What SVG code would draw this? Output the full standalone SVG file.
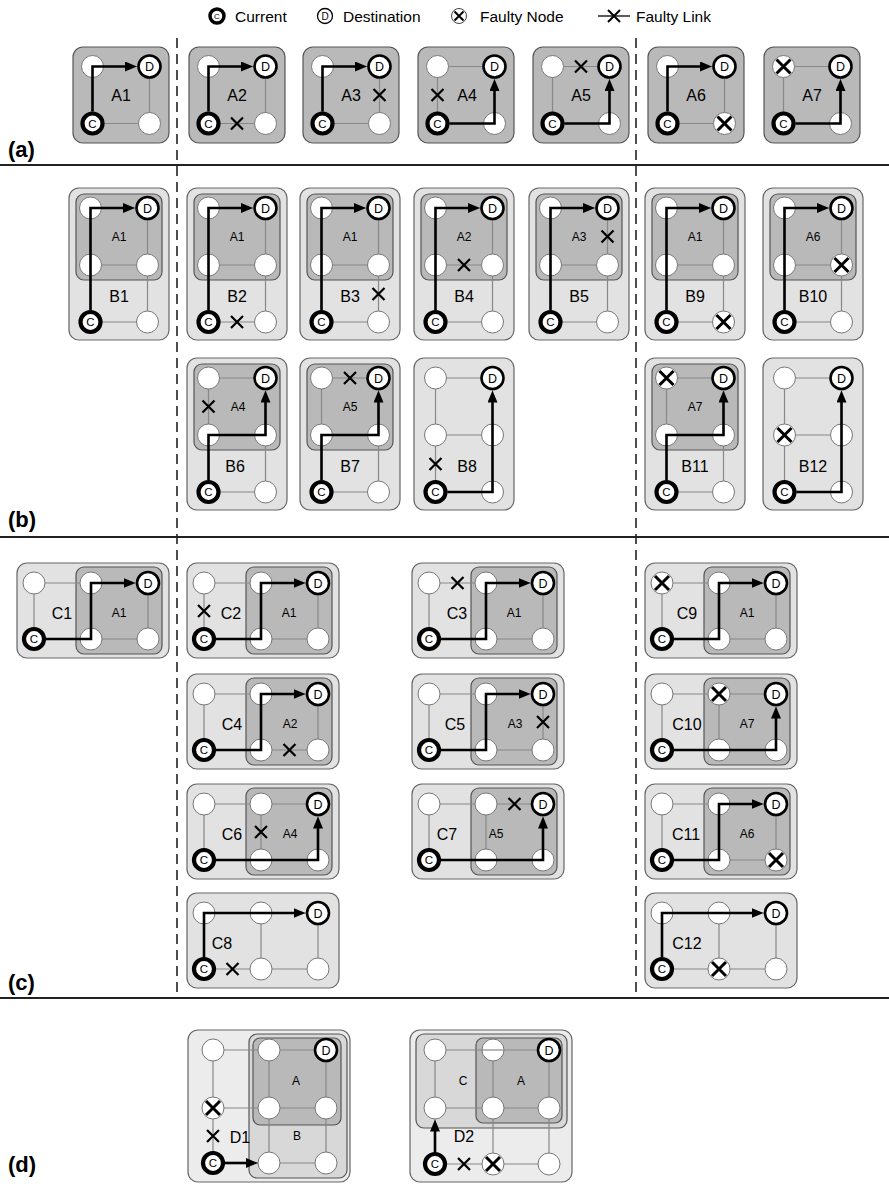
<svg xmlns="http://www.w3.org/2000/svg" width="889" height="1186" viewBox="0 0 889 1186">
<style>
text{font-family:"Liberation Sans",Arial,sans-serif;fill:#000}
.ba{fill:#b9b9b9;stroke:#555;stroke-width:1.2}
.bl{fill:#e2e2e2;stroke:#666;stroke-width:1.2}
.bm{fill:#d8d8d8;stroke:#555;stroke-width:1.2}
.bo{fill:#ececec;stroke:#666;stroke-width:1.2}
.g{fill:none;stroke:#888;stroke-width:1.2}
.p{fill:none;stroke:#000;stroke-width:2.6}
.nc{font-size:11.5px;text-anchor:middle}
.nd{font-size:12.5px;text-anchor:middle}
.lb{font-size:16px;text-anchor:middle}
.il{font-size:12px;text-anchor:middle}
.pl{font-size:22px;font-weight:bold}
.lg{font-size:15.5px}
.sep{stroke:#222;stroke-width:2}
.dash{stroke:#222;stroke-width:1.6;stroke-dasharray:10 6}
</style>
<defs>
<marker id="ah" viewBox="0 0 12 10" refX="8" refY="5" markerWidth="12" markerHeight="10" markerUnits="userSpaceOnUse" orient="auto"><path d="M0,0L12,5L0,10z" fill="#000"/></marker>
<circle id="n" r="11" fill="#fff" stroke="#777" stroke-width="1"/>
<circle id="cn" r="10" fill="#fff" stroke="#000" stroke-width="4.2"/>
<circle id="dn" r="11" fill="#fff" stroke="#000" stroke-width="2.6"/>
<g id="fn"><circle r="11" fill="#fff" stroke="#777" stroke-width="1"/><path d="M-7,-7L7,7M7,-7L-7,7" stroke="#000" stroke-width="3"/></g>
<path id="fx" d="M-6,-6L6,6M6,-6L-6,6" stroke="#000" stroke-width="2.2"/>
</defs>

<!-- legend -->
<g id="legend">
<circle cx="217" cy="16" r="7" fill="#fff" stroke="#000" stroke-width="3.5"/><text x="217" y="19" font-size="8" text-anchor="middle">C</text>
<text class="lg" x="235" y="21.5">Current</text>
<circle cx="325" cy="16" r="7.5" fill="#fff" stroke="#000" stroke-width="1.3"/><text x="325" y="19.5" font-size="10" text-anchor="middle">D</text>
<text class="lg" x="343" y="21.5">Destination</text>
<circle cx="459" cy="16" r="7.5" fill="#fff" stroke="#444" stroke-width="1"/><path d="M454.5,11.5L463.5,20.5M463.5,11.5L454.5,20.5" stroke="#000" stroke-width="2"/>
<text class="lg" x="480" y="21.5">Faulty Node</text>
<path d="M598,16H630" stroke="#000" stroke-width="1.3"/><path d="M608,10L620,22M620,10L608,22" stroke="#000" stroke-width="2"/>
<text class="lg" x="636" y="21.5">Faulty Link</text>
</g>

<!-- section frame -->
<g id="frame">
<line class="sep" x1="0" y1="165" x2="889" y2="165"/>
<line class="sep" x1="0" y1="537" x2="889" y2="537"/>
<line class="sep" x1="0" y1="998" x2="889" y2="998"/>
<line class="dash" x1="177" y1="38" x2="177" y2="998"/>
<line class="dash" x1="636" y1="38" x2="636" y2="998"/>
<text class="pl" x="8" y="157">(a)</text>
<text class="pl" x="8" y="527">(b)</text>
<text class="pl" x="8" y="990">(c)</text>
<text class="pl" x="8" y="1172">(d)</text>
</g>

<!-- row (a): 2x2 meshes -->
<g id="A1" transform="translate(73,47)">
<rect class="ba" width="96" height="96" rx="10"/><path class="g" d="M19.5,19.5H76.5V76.5H19.5Z"/>
<use href="#n" x="19.5" y="19.5"/><use href="#n" x="76.5" y="76.5"/>
<use href="#cn" x="19.5" y="76.5"/><use href="#dn" x="76.5" y="19.5"/>
<text class="nc" x="19.5" y="80.5">C</text><text class="nd" x="76.5" y="24">D</text>
<text class="lb" x="48" y="54">A1</text>
</g>
<g id="A2" transform="translate(189,47)">
<rect class="ba" width="96" height="96" rx="10"/><path class="g" d="M19.5,19.5H76.5V76.5H19.5Z"/>
<use href="#n" x="19.5" y="19.5"/><use href="#n" x="76.5" y="76.5"/>
<use href="#cn" x="19.5" y="76.5"/><use href="#dn" x="76.5" y="19.5"/>
<text class="nc" x="19.5" y="80.5">C</text><text class="nd" x="76.5" y="24">D</text>
<use href="#fx" x="48" y="76.5"/>
<text class="lb" x="48" y="54">A2</text>
</g>
<g id="A3" transform="translate(303,47)">
<rect class="ba" width="96" height="96" rx="10"/><path class="g" d="M19.5,19.5H76.5V76.5H19.5Z"/>
<use href="#n" x="19.5" y="19.5"/><use href="#n" x="76.5" y="76.5"/>
<use href="#cn" x="19.5" y="76.5"/><use href="#dn" x="76.5" y="19.5"/>
<text class="nc" x="19.5" y="80.5">C</text><text class="nd" x="76.5" y="24">D</text>
<use href="#fx" x="76.5" y="48"/>
<text class="lb" x="48" y="54">A3</text>
</g>
<g id="A4" transform="translate(418,47)">
<rect class="ba" width="96" height="96" rx="10"/><path class="g" d="M19.5,19.5H76.5V76.5H19.5Z"/>
<use href="#n" x="19.5" y="19.5"/><use href="#n" x="76.5" y="76.5"/>
<use href="#cn" x="19.5" y="76.5"/><use href="#dn" x="76.5" y="19.5"/>
<text class="nc" x="19.5" y="80.5">C</text><text class="nd" x="76.5" y="24">D</text>
<use href="#fx" x="19.5" y="48"/>
<text class="lb" x="49" y="54">A4</text>
</g>
<g id="A5" transform="translate(533,47)">
<rect class="ba" width="96" height="96" rx="10"/><path class="g" d="M19.5,19.5H76.5V76.5H19.5Z"/>
<use href="#n" x="19.5" y="19.5"/><use href="#n" x="76.5" y="76.5"/>
<use href="#cn" x="19.5" y="76.5"/><use href="#dn" x="76.5" y="19.5"/>
<text class="nc" x="19.5" y="80.5">C</text><text class="nd" x="76.5" y="24">D</text>
<use href="#fx" x="48" y="19.5"/>
<text class="lb" x="48" y="54">A5</text>
</g>
<g id="A6" transform="translate(648,47)">
<rect class="ba" width="96" height="96" rx="10"/><path class="g" d="M19.5,19.5H76.5V76.5H19.5Z"/>
<use href="#n" x="19.5" y="19.5"/><use href="#fn" x="76.5" y="76.5"/>
<use href="#cn" x="19.5" y="76.5"/><use href="#dn" x="76.5" y="19.5"/>
<text class="nc" x="19.5" y="80.5">C</text><text class="nd" x="76.5" y="24">D</text>
<text class="lb" x="48" y="54">A6</text>
</g>
<g id="A7" transform="translate(764,47)">
<rect class="ba" width="96" height="96" rx="10"/><path class="g" d="M19.5,19.5H76.5V76.5H19.5Z"/>
<use href="#fn" x="19.5" y="19.5"/><use href="#n" x="76.5" y="76.5"/>
<use href="#cn" x="19.5" y="76.5"/><use href="#dn" x="76.5" y="19.5"/>
<text class="nc" x="19.5" y="80.5">C</text><text class="nd" x="76.5" y="24">D</text>
<text class="lb" x="48" y="54">A7</text>
</g>

<!-- row (b): 2x3 meshes -->
<g id="B1" transform="translate(69,188)">
<rect class="bl" width="100" height="152" rx="10"/><rect class="ba" x="7" y="6" width="86" height="86" rx="8"/>
<path class="g" d="M21.5,20H78.5M21.5,77H78.5M21.5,134H78.5M21.5,20V134M78.5,20V134"/>
<use href="#n" x="21.5" y="20"/><use href="#n" x="21.5" y="77"/><use href="#n" x="78.5" y="77"/><use href="#n" x="78.5" y="134"/>
<use href="#cn" x="21.5" y="134"/><use href="#dn" x="78.5" y="20"/>
<text class="nc" x="21.5" y="138">C</text><text class="nd" x="78.5" y="24.5">D</text>
<text class="il" x="50" y="53">A1</text><text class="lb" x="50" y="114">B1</text>
</g>
<g id="B2" transform="translate(187,188)">
<rect class="bl" width="100" height="152" rx="10"/><rect class="ba" x="7" y="6" width="86" height="86" rx="8"/>
<path class="g" d="M21.5,20H78.5M21.5,77H78.5M21.5,134H78.5M21.5,20V134M78.5,20V134"/>
<use href="#n" x="21.5" y="20"/><use href="#n" x="21.5" y="77"/><use href="#n" x="78.5" y="77"/><use href="#n" x="78.5" y="134"/>
<use href="#cn" x="21.5" y="134"/><use href="#dn" x="78.5" y="20"/>
<text class="nc" x="21.5" y="138">C</text><text class="nd" x="78.5" y="24.5">D</text>
<use href="#fx" x="50" y="134"/>
<text class="il" x="50" y="53">A1</text><text class="lb" x="50" y="114">B2</text>
</g>
<g id="B3" transform="translate(300,188)">
<rect class="bl" width="100" height="152" rx="10"/><rect class="ba" x="7" y="6" width="86" height="86" rx="8"/>
<path class="g" d="M21.5,20H78.5M21.5,77H78.5M21.5,134H78.5M21.5,20V134M78.5,20V134"/>
<use href="#n" x="21.5" y="20"/><use href="#n" x="21.5" y="77"/><use href="#n" x="78.5" y="77"/><use href="#n" x="78.5" y="134"/>
<use href="#cn" x="21.5" y="134"/><use href="#dn" x="78.5" y="20"/>
<text class="nc" x="21.5" y="138">C</text><text class="nd" x="78.5" y="24.5">D</text>
<use href="#fx" x="78.5" y="106"/>
<text class="il" x="50" y="53">A1</text><text class="lb" x="50" y="114">B3</text>
</g>
<g id="B4" transform="translate(414,188)">
<rect class="bl" width="100" height="152" rx="10"/><rect class="ba" x="7" y="6" width="86" height="86" rx="8"/>
<path class="g" d="M21.5,20H78.5M21.5,77H78.5M21.5,134H78.5M21.5,20V134M78.5,20V134"/>
<use href="#n" x="21.5" y="20"/><use href="#n" x="21.5" y="77"/><use href="#n" x="78.5" y="77"/><use href="#n" x="78.5" y="134"/>
<use href="#cn" x="21.5" y="134"/><use href="#dn" x="78.5" y="20"/>
<text class="nc" x="21.5" y="138">C</text><text class="nd" x="78.5" y="24.5">D</text>
<use href="#fx" x="50" y="77"/>
<text class="il" x="50" y="53">A2</text><text class="lb" x="50" y="114">B4</text>
</g>
<g id="B5" transform="translate(529,188)">
<rect class="bl" width="100" height="152" rx="10"/><rect class="ba" x="7" y="6" width="86" height="86" rx="8"/>
<path class="g" d="M21.5,20H78.5M21.5,77H78.5M21.5,134H78.5M21.5,20V134M78.5,20V134"/>
<use href="#n" x="21.5" y="20"/><use href="#n" x="21.5" y="77"/><use href="#n" x="78.5" y="77"/><use href="#n" x="78.5" y="134"/>
<use href="#cn" x="21.5" y="134"/><use href="#dn" x="78.5" y="20"/>
<text class="nc" x="21.5" y="138">C</text><text class="nd" x="78.5" y="24.5">D</text>
<use href="#fx" x="78.5" y="48.5"/>
<text class="il" x="50" y="53">A3</text><text class="lb" x="50" y="114">B5</text>
</g>
<g id="B9" transform="translate(645,188)">
<rect class="bl" width="100" height="152" rx="10"/><rect class="ba" x="7" y="6" width="86" height="86" rx="8"/>
<path class="g" d="M21.5,20H78.5M21.5,77H78.5M21.5,134H78.5M21.5,20V134M78.5,20V134"/>
<use href="#n" x="21.5" y="20"/><use href="#n" x="21.5" y="77"/><use href="#n" x="78.5" y="77"/><use href="#fn" x="78.5" y="134"/>
<use href="#cn" x="21.5" y="134"/><use href="#dn" x="78.5" y="20"/>
<text class="nc" x="21.5" y="138">C</text><text class="nd" x="78.5" y="24.5">D</text>
<text class="il" x="50" y="53">A1</text><text class="lb" x="50" y="114">B9</text>
</g>
<g id="B10" transform="translate(763,188)">
<rect class="bl" width="100" height="152" rx="10"/><rect class="ba" x="7" y="6" width="86" height="86" rx="8"/>
<path class="g" d="M21.5,20H78.5M21.5,77H78.5M21.5,134H78.5M21.5,20V134M78.5,20V134"/>
<use href="#n" x="21.5" y="20"/><use href="#n" x="21.5" y="77"/><use href="#fn" x="78.5" y="77"/><use href="#n" x="78.5" y="134"/>
<use href="#cn" x="21.5" y="134"/><use href="#dn" x="78.5" y="20"/>
<text class="nc" x="21.5" y="138">C</text><text class="nd" x="78.5" y="24.5">D</text>
<text class="il" x="50" y="53">A6</text><text class="lb" x="50" y="114">B10</text>
</g>
<g id="B6" transform="translate(187,358)">
<rect class="bl" width="100" height="152" rx="10"/><rect class="ba" x="7" y="6" width="86" height="86" rx="8"/>
<path class="g" d="M21.5,20H78.5M21.5,77H78.5M21.5,134H78.5M21.5,20V134M78.5,20V134"/>
<use href="#n" x="21.5" y="20"/><use href="#n" x="21.5" y="77"/><use href="#n" x="78.5" y="77"/><use href="#n" x="78.5" y="134"/>
<use href="#cn" x="21.5" y="134"/><use href="#dn" x="78.5" y="20"/>
<text class="nc" x="21.5" y="138">C</text><text class="nd" x="78.5" y="24.5">D</text>
<use href="#fx" x="21.5" y="48.5"/>
<text class="il" x="51" y="53">A4</text><text class="lb" x="48" y="114">B6</text>
</g>
<g id="B7" transform="translate(300,358)">
<rect class="bl" width="100" height="152" rx="10"/><rect class="ba" x="7" y="6" width="86" height="86" rx="8"/>
<path class="g" d="M21.5,20H78.5M21.5,77H78.5M21.5,134H78.5M21.5,20V134M78.5,20V134"/>
<use href="#n" x="21.5" y="20"/><use href="#n" x="21.5" y="77"/><use href="#n" x="78.5" y="77"/><use href="#n" x="78.5" y="134"/>
<use href="#cn" x="21.5" y="134"/><use href="#dn" x="78.5" y="20"/>
<text class="nc" x="21.5" y="138">C</text><text class="nd" x="78.5" y="24.5">D</text>
<use href="#fx" x="50" y="20"/>
<text class="il" x="50" y="53">A5</text><text class="lb" x="50" y="114">B7</text>
</g>
<g id="B8" transform="translate(414,358)">
<rect class="bl" width="100" height="152" rx="10"/>
<path class="g" d="M21.5,20H78.5M21.5,77H78.5M21.5,134H78.5M21.5,20V134M78.5,20V134"/>
<use href="#n" x="21.5" y="20"/><use href="#n" x="21.5" y="77"/><use href="#n" x="78.5" y="77"/><use href="#n" x="78.5" y="134"/>
<use href="#cn" x="21.5" y="134"/><use href="#dn" x="78.5" y="20"/>
<text class="nc" x="21.5" y="138">C</text><text class="nd" x="78.5" y="24.5">D</text>
<use href="#fx" x="21.5" y="106"/>
<text class="lb" x="53" y="114">B8</text>
</g>
<g id="B11" transform="translate(645,358)">
<rect class="bl" width="100" height="152" rx="10"/><rect class="ba" x="7" y="6" width="86" height="86" rx="8"/>
<path class="g" d="M21.5,20H78.5M21.5,77H78.5M21.5,134H78.5M21.5,20V134M78.5,20V134"/>
<use href="#fn" x="21.5" y="20"/><use href="#n" x="21.5" y="77"/><use href="#n" x="78.5" y="77"/><use href="#n" x="78.5" y="134"/>
<use href="#cn" x="21.5" y="134"/><use href="#dn" x="78.5" y="20"/>
<text class="nc" x="21.5" y="138">C</text><text class="nd" x="78.5" y="24.5">D</text>
<text class="il" x="50" y="53">A7</text><text class="lb" x="50" y="114">B11</text>
</g>
<g id="B12" transform="translate(763,358)">
<rect class="bl" width="100" height="152" rx="10"/>
<path class="g" d="M21.5,20H78.5M21.5,77H78.5M21.5,134H78.5M21.5,20V134M78.5,20V134"/>
<use href="#n" x="21.5" y="20"/><use href="#fn" x="21.5" y="77"/><use href="#n" x="78.5" y="77"/><use href="#n" x="78.5" y="134"/>
<use href="#cn" x="21.5" y="134"/><use href="#dn" x="78.5" y="20"/>
<text class="nc" x="21.5" y="138">C</text><text class="nd" x="78.5" y="24.5">D</text>
<text class="lb" x="50" y="114">B12</text>
</g>

<!-- row (c): 3x2 meshes -->
<g id="C1" transform="translate(17,563)">
<rect class="bl" width="152" height="95" rx="10"/><rect class="ba" x="59" y="4" width="86" height="87" rx="8"/>
<path class="g" d="M17,20H131M17,76H131M17,20V76M74,20V76M131,20V76"/>
<use href="#n" x="17" y="20"/><use href="#n" x="74" y="20"/><use href="#n" x="74" y="76"/><use href="#n" x="131" y="76"/>
<use href="#cn" x="17" y="76"/><use href="#dn" x="131" y="20"/>
<text class="nc" x="17" y="80">C</text><text class="nd" x="131" y="24.5">D</text>
<text class="lb" x="45" y="56">C1</text><text class="il" x="102" y="54">A1</text>
</g>
<g id="C2" transform="translate(187,563)">
<rect class="bl" width="152" height="95" rx="10"/><rect class="ba" x="59" y="4" width="86" height="87" rx="8"/>
<path class="g" d="M17,20H131M17,76H131M17,20V76M74,20V76M131,20V76"/>
<use href="#n" x="17" y="20"/><use href="#n" x="74" y="20"/><use href="#n" x="74" y="76"/><use href="#n" x="131" y="76"/>
<use href="#cn" x="17" y="76"/><use href="#dn" x="131" y="20"/>
<text class="nc" x="17" y="80">C</text><text class="nd" x="131" y="24.5">D</text>
<use href="#fx" x="17" y="48"/>
<text class="lb" x="44" y="56">C2</text><text class="il" x="102" y="54">A1</text>
</g>
<g id="C3" transform="translate(412,563)">
<rect class="bl" width="152" height="95" rx="10"/><rect class="ba" x="59" y="4" width="86" height="87" rx="8"/>
<path class="g" d="M17,20H131M17,76H131M17,20V76M74,20V76M131,20V76"/>
<use href="#n" x="17" y="20"/><use href="#n" x="74" y="20"/><use href="#n" x="74" y="76"/><use href="#n" x="131" y="76"/>
<use href="#cn" x="17" y="76"/><use href="#dn" x="131" y="20"/>
<text class="nc" x="17" y="80">C</text><text class="nd" x="131" y="24.5">D</text>
<use href="#fx" x="45.5" y="20"/>
<text class="lb" x="45" y="56">C3</text><text class="il" x="102" y="54">A1</text>
</g>
<g id="C9" transform="translate(645,563)">
<rect class="bl" width="152" height="95" rx="10"/><rect class="ba" x="59" y="4" width="86" height="87" rx="8"/>
<path class="g" d="M17,20H131M17,76H131M17,20V76M74,20V76M131,20V76"/>
<use href="#fn" x="17" y="20"/><use href="#n" x="74" y="20"/><use href="#n" x="74" y="76"/><use href="#n" x="131" y="76"/>
<use href="#cn" x="17" y="76"/><use href="#dn" x="131" y="20"/>
<text class="nc" x="17" y="80">C</text><text class="nd" x="131" y="24.5">D</text>
<text class="lb" x="42" y="56">C9</text><text class="il" x="102" y="54">A1</text>
</g>
<g id="C4" transform="translate(187,674)">
<rect class="bl" width="152" height="95" rx="10"/><rect class="ba" x="59" y="4" width="86" height="87" rx="8"/>
<path class="g" d="M17,20H131M17,76H131M17,20V76M74,20V76M131,20V76"/>
<use href="#n" x="17" y="20"/><use href="#n" x="74" y="20"/><use href="#n" x="74" y="76"/><use href="#n" x="131" y="76"/>
<use href="#cn" x="17" y="76"/><use href="#dn" x="131" y="20"/>
<text class="nc" x="17" y="80">C</text><text class="nd" x="131" y="24.5">D</text>
<use href="#fx" x="102.5" y="76"/>
<text class="lb" x="45" y="56">C4</text><text class="il" x="103" y="54">A2</text>
</g>
<g id="C5" transform="translate(412,674)">
<rect class="bl" width="152" height="95" rx="10"/><rect class="ba" x="59" y="4" width="86" height="87" rx="8"/>
<path class="g" d="M17,20H131M17,76H131M17,20V76M74,20V76M131,20V76"/>
<use href="#n" x="17" y="20"/><use href="#n" x="74" y="20"/><use href="#n" x="74" y="76"/><use href="#n" x="131" y="76"/>
<use href="#cn" x="17" y="76"/><use href="#dn" x="131" y="20"/>
<text class="nc" x="17" y="80">C</text><text class="nd" x="131" y="24.5">D</text>
<use href="#fx" x="131" y="48"/>
<text class="lb" x="43" y="56">C5</text><text class="il" x="103" y="54">A3</text>
</g>
<g id="C10" transform="translate(645,674)">
<rect class="bl" width="152" height="95" rx="10"/><rect class="ba" x="59" y="4" width="86" height="87" rx="8"/>
<path class="g" d="M17,20H131M17,76H131M17,20V76M74,20V76M131,20V76"/>
<use href="#n" x="17" y="20"/><use href="#fn" x="74" y="20"/><use href="#n" x="74" y="76"/><use href="#n" x="131" y="76"/>
<use href="#cn" x="17" y="76"/><use href="#dn" x="131" y="20"/>
<text class="nc" x="17" y="80">C</text><text class="nd" x="131" y="24.5">D</text>
<text class="lb" x="42" y="56">C10</text><text class="il" x="102" y="54">A7</text>
</g>
<g id="C6" transform="translate(187,784)">
<rect class="bl" width="152" height="95" rx="10"/><rect class="ba" x="59" y="4" width="86" height="87" rx="8"/>
<path class="g" d="M17,20H131M17,76H131M17,20V76M74,20V76M131,20V76"/>
<use href="#n" x="17" y="20"/><use href="#n" x="74" y="20"/><use href="#n" x="74" y="76"/><use href="#n" x="131" y="76"/>
<use href="#cn" x="17" y="76"/><use href="#dn" x="131" y="20"/>
<text class="nc" x="17" y="80">C</text><text class="nd" x="131" y="24.5">D</text>
<use href="#fx" x="74" y="48"/>
<text class="lb" x="45" y="56">C6</text><text class="il" x="103" y="54">A4</text>
</g>
<g id="C7" transform="translate(412,784)">
<rect class="bl" width="152" height="95" rx="10"/><rect class="ba" x="59" y="4" width="86" height="87" rx="8"/>
<path class="g" d="M17,20H131M17,76H131M17,20V76M74,20V76M131,20V76"/>
<use href="#n" x="17" y="20"/><use href="#n" x="74" y="20"/><use href="#n" x="74" y="76"/><use href="#n" x="131" y="76"/>
<use href="#cn" x="17" y="76"/><use href="#dn" x="131" y="20"/>
<text class="nc" x="17" y="80">C</text><text class="nd" x="131" y="24.5">D</text>
<use href="#fx" x="102.5" y="20"/>
<text class="lb" x="35" y="56">C7</text><text class="il" x="84" y="54">A5</text>
</g>
<g id="C11" transform="translate(645,784)">
<rect class="bl" width="152" height="95" rx="10"/><rect class="ba" x="59" y="4" width="86" height="87" rx="8"/>
<path class="g" d="M17,20H131M17,76H131M17,20V76M74,20V76M131,20V76"/>
<use href="#n" x="17" y="20"/><use href="#n" x="74" y="20"/><use href="#n" x="74" y="76"/><use href="#fn" x="131" y="76"/>
<use href="#cn" x="17" y="76"/><use href="#dn" x="131" y="20"/>
<text class="nc" x="17" y="80">C</text><text class="nd" x="131" y="24.5">D</text>
<text class="lb" x="41" y="56">C11</text><text class="il" x="102" y="54">A6</text>
</g>
<g id="C8" transform="translate(187,893)">
<rect class="bl" width="152" height="95" rx="10"/>
<path class="g" d="M17,20H131M17,76H131M17,20V76M74,20V76M131,20V76"/>
<use href="#n" x="17" y="20"/><use href="#n" x="74" y="20"/><use href="#n" x="74" y="76"/><use href="#n" x="131" y="76"/>
<use href="#cn" x="17" y="76"/><use href="#dn" x="131" y="20"/>
<text class="nc" x="17" y="80">C</text><text class="nd" x="131" y="24.5">D</text>
<use href="#fx" x="45.5" y="76"/>
<text class="lb" x="35" y="56">C8</text>
</g>
<g id="C12" transform="translate(645,893)">
<rect class="bl" width="152" height="95" rx="10"/>
<path class="g" d="M17,20H131M17,76H131M17,20V76M74,20V76M131,20V76"/>
<use href="#n" x="17" y="20"/><use href="#n" x="74" y="20"/><use href="#fn" x="74" y="76"/><use href="#n" x="131" y="76"/>
<use href="#cn" x="17" y="76"/><use href="#dn" x="131" y="20"/>
<text class="nc" x="17" y="80">C</text><text class="nd" x="131" y="24.5">D</text>
<text class="lb" x="42" y="56">C12</text>
</g>

<!-- row (d): 3x3 meshes -->
<g id="D1" transform="translate(188,1030)">
<rect class="bo" width="162" height="152" rx="10"/>
<rect class="bm" x="61" y="4" width="98" height="144" rx="8"/>
<rect class="ba" x="65" y="8" width="88" height="87" rx="7"/>
<path class="g" d="M25,20H138M25,78H138M25,133H138M25,20V133M81,20V133M138,20V133"/>
<use href="#n" x="25" y="20"/><use href="#n" x="81" y="20"/>
<use href="#fn" x="25" y="78"/><use href="#n" x="81" y="78"/><use href="#n" x="138" y="78"/>
<use href="#n" x="81" y="133"/><use href="#n" x="138" y="133"/>
<use href="#cn" x="25" y="133"/><use href="#dn" x="138" y="20"/>
<text class="nc" x="25" y="137">C</text><text class="nd" x="138" y="24.5">D</text>
<use href="#fx" x="25" y="106"/>
<text class="il" x="108" y="55">A</text><text class="il" x="109" y="110">B</text>
<text class="lb" x="52" y="113">D1</text>
</g>
<g id="D2" transform="translate(410,1030)">
<rect class="bo" width="162" height="152" rx="10"/>
<rect class="bm" x="6" y="4" width="151" height="94" rx="8"/>
<rect class="ba" x="66" y="8" width="86" height="85" rx="7"/>
<path class="g" d="M25,20H139M25,78H139M25,134H139M25,20V134M83,20V134M139,20V134"/>
<use href="#n" x="25" y="20"/><use href="#n" x="83" y="20"/>
<use href="#n" x="25" y="78"/><use href="#n" x="83" y="78"/><use href="#n" x="139" y="78"/>
<use href="#fn" x="83" y="134"/><use href="#n" x="139" y="134"/>
<path class="g" d="M72,20H94"/>
<use href="#cn" x="25" y="134"/><use href="#dn" x="139" y="20"/>
<text class="nc" x="25" y="138">C</text><text class="nd" x="139" y="24.5">D</text>
<use href="#fx" x="54" y="134"/>
<text class="il" x="53" y="55">C</text><text class="il" x="111" y="55">A</text>
<text class="lb" x="54" y="112">D2</text>
</g>

<!-- routing paths C to D -->
<g id="routes" fill="none">
<path class="p" marker-end="url(#ah)" transform="translate(73,47)" d="M19.5,64.5V19.5H60"/>
<path class="p" marker-end="url(#ah)" transform="translate(189,47)" d="M19.5,64.5V19.5H60"/>
<path class="p" marker-end="url(#ah)" transform="translate(303,47)" d="M19.5,64.5V19.5H60"/>
<path class="p" marker-end="url(#ah)" transform="translate(418,47)" d="M31.5,76.5H76.5V36"/>
<path class="p" marker-end="url(#ah)" transform="translate(533,47)" d="M31.5,76.5H76.5V36"/>
<path class="p" marker-end="url(#ah)" transform="translate(648,47)" d="M19.5,64.5V19.5H60"/>
<path class="p" marker-end="url(#ah)" transform="translate(764,47)" d="M31.5,76.5H76.5V36"/>

<path class="p" marker-end="url(#ah)" transform="translate(69,188)" d="M21.5,122V20H62"/>
<path class="p" marker-end="url(#ah)" transform="translate(187,188)" d="M21.5,122V20H62"/>
<path class="p" marker-end="url(#ah)" transform="translate(300,188)" d="M21.5,122V20H62"/>
<path class="p" marker-end="url(#ah)" transform="translate(414,188)" d="M21.5,122V20H62"/>
<path class="p" marker-end="url(#ah)" transform="translate(529,188)" d="M21.5,122V20H62"/>
<path class="p" marker-end="url(#ah)" transform="translate(645,188)" d="M21.5,122V20H62"/>
<path class="p" marker-end="url(#ah)" transform="translate(763,188)" d="M21.5,122V20H62"/>
<path class="p" marker-end="url(#ah)" transform="translate(187,358)" d="M21.5,122V77H78.5V36.5"/>
<path class="p" marker-end="url(#ah)" transform="translate(300,358)" d="M21.5,122V77H78.5V36.5"/>
<path class="p" marker-end="url(#ah)" transform="translate(414,358)" d="M33.5,134H78.5V36.5"/>
<path class="p" marker-end="url(#ah)" transform="translate(645,358)" d="M21.5,122V77H78.5V36.5"/>
<path class="p" marker-end="url(#ah)" transform="translate(763,358)" d="M33.5,134H78.5V36.5"/>

<path class="p" marker-end="url(#ah)" transform="translate(17,563)" d="M29,76H74V20H114.5"/>
<path class="p" marker-end="url(#ah)" transform="translate(187,563)" d="M29,76H74V20H114.5"/>
<path class="p" marker-end="url(#ah)" transform="translate(412,563)" d="M29,76H74V20H114.5"/>
<path class="p" marker-end="url(#ah)" transform="translate(645,563)" d="M29,76H74V20H114.5"/>
<path class="p" marker-end="url(#ah)" transform="translate(187,674)" d="M29,76H74V20H114.5"/>
<path class="p" marker-end="url(#ah)" transform="translate(412,674)" d="M29,76H74V20H114.5"/>
<path class="p" marker-end="url(#ah)" transform="translate(645,674)" d="M29,76H131V36.5"/>
<path class="p" marker-end="url(#ah)" transform="translate(187,784)" d="M29,76H131V36.5"/>
<path class="p" marker-end="url(#ah)" transform="translate(412,784)" d="M29,76H131V36.5"/>
<path class="p" marker-end="url(#ah)" transform="translate(645,784)" d="M29,76H74V20H114.5"/>
<path class="p" marker-end="url(#ah)" transform="translate(187,893)" d="M17,64V20H114.5"/>
<path class="p" marker-end="url(#ah)" transform="translate(645,893)" d="M17,64V20H114.5"/>

<path class="p" marker-end="url(#ah)" transform="translate(188,1030)" d="M37,133H66"/>
<path class="p" marker-end="url(#ah)" transform="translate(410,1030)" d="M25,122V93.5"/>
</g>
</svg>
